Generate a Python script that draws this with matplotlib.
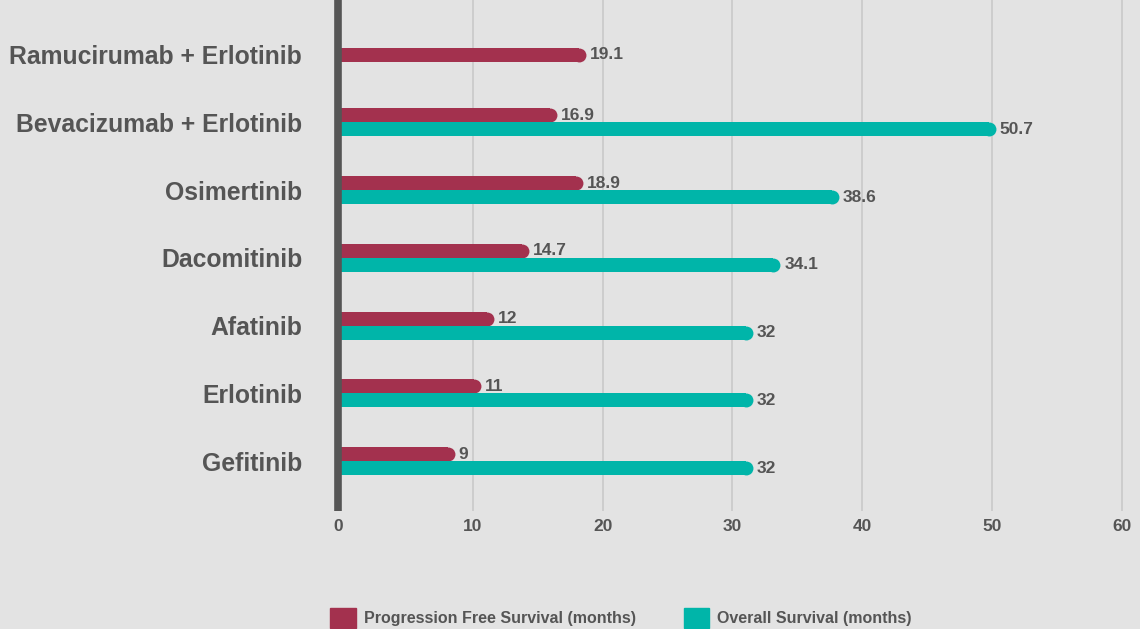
import matplotlib
matplotlib.use("Agg")
from matplotlib import pyplot as plt
from matplotlib.patches import Patch

# chart data
drugs = ['Ramucirumab + Erlotinib', 'Bevacizumab + Erlotinib', 'Osimertinib',
         'Dacomitinib', 'Afatinib', 'Erlotinib', 'Gefitinib']
pfs = [19.1, 16.9, 18.9, 14.7, 12, 11, 9]
overall = [None, 50.7, 38.6, 34.1, 32, 32, 32]
xticks = [0, 10, 20, 30, 40, 50, 60]

bg = '#e3e3e3'
red = '#a3314e'
teal = '#00b5a9'
txt = '#555555'

plt.rcParams['font.family'] = ['Liberation Sans', 'DejaVu Sans']

fig = plt.figure(figsize=(11.4, 6.29), dpi=100, facecolor=bg)
ax = fig.add_axes([330/1140, 118/629, 810/1140, 511/629])
ax.set_facecolor(bg)

ax.set_xlim(-0.6, 61.83)
ax.set_ylim(-0.738, 6.808)

h = 0.207          # bar thickness in category units
cap_r = 0.535      # radius of the round end in x units
ms_pt = 10.0       # same thickness in points for the round cap
grid_shift = 0.42  # the original grid sits a little right of the bar scale

# grid + thick zero line
for t in xticks[1:]:
    ax.axvline(t + grid_shift, color='#c9c9c9', lw=1.2, zorder=0)
ax.axvline(0, color='#555555', lw=5.5, zorder=5)


def rounded_bar(y, v, color):
    ax.barh(y, v - cap_r, height=h, left=0, color=color, zorder=2)
    # round right end
    ax.plot([v - cap_r], [y], marker='o', ms=ms_pt, mew=0, color=color, zorder=2)
    ax.annotate(f'{v:g}', (v, y), xytext=(3, 0), textcoords='offset points',
                ha='left', va='center', fontsize=12.5, fontweight='bold', color=txt)


n = len(drugs)
for i in range(n):
    y = n - 1 - i
    if overall[i] is None:
        rounded_bar(y, pfs[i], red)
    else:
        rounded_bar(y + h/2, pfs[i], red)
        rounded_bar(y - h/2, overall[i], teal)

ax.set_yticks([n - 1 - i for i in range(n)])
ax.set_yticklabels(drugs, fontsize=17.8, fontweight='bold', color=txt)
ax.set_xticks([0] + [t + grid_shift for t in xticks[1:]])
ax.set_xticklabels([str(t) for t in xticks], fontsize=12.5, fontweight='bold', color=txt)
ax.tick_params(axis='y', length=0, pad=20)
ax.tick_params(axis='x', length=0, pad=6)
for s in ax.spines.values():
    s.set_visible(False)

handles = [Patch(color=red, label='Progression Free Survival (months)'),
           Patch(color=teal, label='Overall Survival (months)')]
fig.legend(handles=handles, loc='center', bbox_to_anchor=(621/1140, 11/629),
           ncol=2, frameon=False, prop={'size': 11.5, 'weight': 'bold'},
           labelcolor=txt, handlelength=1.6, handleheight=1.6,
           handletextpad=0.5, columnspacing=3.0)

fig.savefig('out.png', dpi=100, facecolor=bg)
